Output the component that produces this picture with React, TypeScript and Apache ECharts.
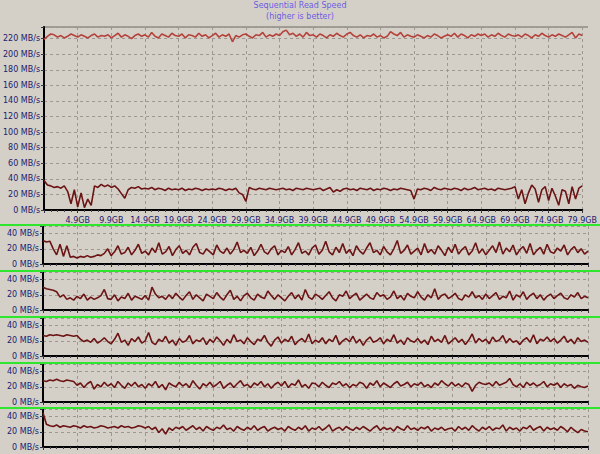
import React, { useEffect, useRef } from 'react';
import * as echarts from 'echarts';

const STEP_GB = 0.5;
const xTickLabels = ['', '4.9GB', '9.9GB', '14.9GB', '19.9GB', '24.9GB', '29.9GB', '34.9GB', '39.9GB', '44.9GB', '49.9GB', '54.9GB', '59.9GB', '64.9GB', '69.9GB', '74.9GB', '79.9GB'];

const mainTop = [
  219, 223, 226, 225, 222, 224, 221, 223, 226, 224,
  222, 225, 223, 221, 224, 226, 222, 224, 223, 225,
  221, 224, 227, 222, 225, 223, 220, 224, 226, 223,
  225, 222, 228, 223, 221, 226, 224, 222, 227, 224,
  223, 226, 221, 225, 224, 222, 227, 223, 225, 221,
  224, 227, 222, 225, 223, 226, 216, 224, 222, 225,
  226, 223, 221, 225, 224, 228, 222, 225, 223, 226,
  224, 229, 231, 225, 227, 223, 226, 222, 228, 224,
  225, 222, 226, 224, 221, 225, 223, 227, 224, 222,
  226, 228, 224, 222, 225, 221, 224, 223, 226, 222,
  224, 221, 223, 229, 226, 224, 228, 222, 225, 223,
  222, 225, 223, 221, 224, 222, 226, 224, 221, 223,
  225, 223, 227, 222, 226, 224, 221, 225, 223, 226,
  224, 226, 222, 225, 223, 227, 224, 222, 226, 224,
  223, 225, 222, 226, 224, 221, 225, 223, 227, 224,
  222, 225, 223, 226, 224, 222, 225, 228, 221, 226,
  224,
];

const mainLow = [
  38, 32, 31, 29, 30, 28, 31, 24, 8, 26,
  4, 22, 3, 14, 6, 31, 29, 33, 30, 32,
  29, 31, 27, 21, 15, 26, 29, 28, 30, 27,
  28, 27, 29, 26, 28, 27, 25, 28, 26, 27,
  26, 28, 25, 27, 26, 28, 27, 25, 27, 26,
  27, 26, 28, 27, 25, 27, 26, 28, 22, 20,
  11, 29, 27, 26, 28, 27, 26, 28, 27, 26,
  27, 28, 26, 27, 25, 28, 27, 26, 28, 27,
  26, 27, 28, 25, 27, 29, 23, 26, 24, 27,
  28, 26, 27, 25, 28, 27, 26, 28, 25, 27,
  26, 28, 27, 25, 27, 26, 28, 27, 26, 25,
  14, 27, 26, 28, 27, 25, 29, 27, 26, 28,
  27, 26, 28, 27, 25, 28, 26, 27, 29, 26,
  27, 28, 26, 27, 25, 28, 27, 26, 27, 28,
  30, 14, 26, 8, 22, 32, 27, 10, 26, 30,
  12, 28, 18, 6, 26, 24, 8, 30, 14, 28,
  31,
];

const panel1 = [
  31, 29, 30, 20, 12, 26, 10, 24, 9, 10,
  8, 10, 9, 11, 9, 10, 12, 11, 14, 20,
  11, 16, 24, 13, 15, 22, 12, 18, 26, 14,
  17, 12, 21, 15, 28, 13, 16, 23, 11, 19,
  24, 14, 18, 12, 22, 27, 15, 13, 20, 16,
  12, 25, 17, 14, 21, 13, 19, 29, 15, 18,
  14, 22, 11, 17, 26, 16, 13, 20, 24, 12,
  18, 15, 23, 12, 19, 28, 14, 17, 12, 21,
  25, 13, 18, 30, 16, 12, 22, 15, 27, 14,
  19, 11, 24, 17, 13, 21, 28, 15, 18, 12,
  23, 16, 12, 20, 31, 14, 18, 25, 13, 17,
  21, 12, 27, 15, 19, 13, 24, 18, 11, 22,
  15, 26, 13, 19, 23, 12, 17, 28, 14, 20,
  12, 18, 24, 15, 29, 13, 21, 16, 25, 12,
  19, 23, 14, 27, 12, 18, 22, 13, 26, 16,
  14, 21, 17, 25, 12, 19, 23, 15, 20, 13,
  17,
];

const panel2 = [
  30, 28, 27, 26, 24, 17, 20, 14, 16, 13,
  18, 15, 21, 13, 17, 14, 16, 19, 27, 15,
  14, 20, 12, 17, 15, 22, 13, 18, 16, 14,
  19, 13, 30, 21, 16, 18, 14, 20, 15, 22,
  17, 13, 19, 24, 14, 20, 16, 12, 21, 18,
  15, 23, 17, 13, 20, 26, 14, 18, 12, 19,
  22, 16, 13, 21, 17, 15, 25, 19, 14, 20,
  16, 12, 18, 23, 15, 20, 13, 27, 17, 14,
  21, 18, 14, 19, 24, 16, 12, 20, 18, 25,
  15, 19, 22, 13, 17, 21, 16, 14, 23, 18,
  20, 14, 17, 25, 15, 19, 13, 22, 18, 16,
  24, 17, 13, 20, 16, 28, 14, 19, 21, 15,
  18, 22, 15, 13, 20, 17, 24, 16, 19, 14,
  21, 15, 19, 23, 14, 18, 16, 25, 13, 20,
  17, 24, 14, 19, 22, 15, 20, 13, 18, 21,
  15, 19, 22, 16, 14, 20, 17, 23, 15, 18,
  16,
];

const panel3 = [
  27, 26, 28, 27, 28, 27, 26, 28, 27, 26,
  27, 22, 19, 21, 18, 23, 17, 20, 24, 19,
  16, 22, 30, 18, 21, 14, 23, 19, 25, 17,
  20, 31, 18, 15, 22, 19, 26, 17, 21, 14,
  23, 18, 20, 27, 16, 21, 19, 24, 15, 22,
  18, 25, 20, 14, 22, 17, 28, 19, 21, 16,
  24, 19, 15, 22, 20, 27, 18, 13, 21, 25,
  17, 22, 19, 26, 15, 20, 23, 18, 29, 16,
  21, 18, 24, 16, 22, 19, 27, 15, 20, 23,
  19, 26, 17, 22, 14, 21, 25, 18, 20, 24,
  16, 22, 19, 28, 17, 21, 15, 24, 20, 18,
  23, 17, 21, 15, 26, 19, 22, 18, 27, 16,
  20, 24, 18, 22, 15, 21, 29, 17, 23, 19,
  22, 16, 25, 19, 21, 27, 17, 23, 18, 20,
  15, 21, 24, 18, 28, 16, 22, 20, 25, 19,
  23, 17, 21, 26, 18, 22, 16, 24, 19, 21,
  18,
];

const panel4 = [
  28, 27, 29, 28, 30, 28, 27, 29, 28, 27,
  22, 25, 19, 24, 27, 17, 23, 20, 26, 21,
  24, 19, 27, 22, 18, 25, 21, 26, 20, 23,
  18, 24, 21, 27, 19, 23, 16, 25, 22, 20,
  26, 21, 24, 19, 28, 22, 17, 24, 21, 26,
  20, 23, 27, 18, 22, 25, 19, 24, 28, 21,
  23, 19, 25, 22, 27, 20, 24, 18, 23, 26,
  21, 27, 19, 24, 22, 29, 20, 23, 18, 25,
  24, 20, 26, 22, 19, 25, 23, 27, 21, 24,
  19, 23, 21, 26, 24, 18, 25, 22, 28, 20,
  25, 22, 19, 24, 27, 21, 23, 26, 20, 24,
  22, 26, 20, 23, 19, 25, 22, 28, 24, 21,
  26, 21, 24, 20, 25, 23, 14, 22, 26, 24,
  23, 25, 21, 27, 22, 24, 26, 31, 23, 20,
  24, 19, 26, 22, 25, 21, 23, 27, 20, 24,
  22, 25, 19, 24, 21, 23, 18, 22, 20, 19,
  21,
];

const panel5 = [
  45, 30, 28, 27, 29, 26, 28, 27, 26, 28,
  27, 25, 28, 26, 27, 25, 26, 28, 27, 25,
  26, 27, 25, 28, 26, 27, 25, 26, 28, 27,
  25, 27, 23, 26, 19, 24, 17, 25, 22, 26,
  24, 27, 22, 25, 28, 23, 26, 21, 27, 24,
  22, 26, 24, 29, 23, 25, 21, 27, 24, 22,
  26, 23, 28, 22, 25, 27, 21, 24, 26, 23,
  25, 21, 27, 24, 22, 26, 23, 28, 21, 25,
  23, 27, 22, 25, 29, 21, 24, 26, 22, 27,
  24, 22, 26, 23, 27, 24, 21, 25, 28, 22,
  26, 23, 25, 21, 27, 24, 22, 28, 23, 25,
  22, 26, 24, 27, 21, 25, 23, 26, 22, 24,
  25, 21, 27, 23, 26, 22, 28, 24, 21, 26,
  23, 27, 22, 25, 24, 29, 21, 26, 23, 25,
  21, 26, 24, 28, 22, 25, 27, 21, 26, 23,
  25, 22, 27, 24, 20, 26, 22, 19, 23, 21,
  20,
];

const panelSeries = [panel1, panel2, panel3, panel4, panel5];
const separatorsY = [225, 271, 317, 363, 408];

const LABEL_COLOR = '#20206e';
const FONT = 'DejaVu Sans';
const GRID_DASH = '#9e978f';

function toPoints(values: number[]) {
  return values.map((v, i) => [i * STEP_GB, v]);
}

export default function App() {
  const ref = useRef<HTMLDivElement>(null);
  useEffect(() => {
    if (!ref.current) return;
    const chart = echarts.init(ref.current, null, { renderer: 'svg' });

    const grids: any[] = [{ left: 43, right: 12, top: 27, height: 183 }];
    separatorsY.forEach((g) => grids.push({ left: 43, right: 12, top: g + 1, height: 38 }));

    const xAxes = grids.map((_, i) => ({
      type: 'value',
      gridIndex: i,
      min: 0,
      max: 80,
      interval: 5,
      axisLine: { show: true, onZero: false, lineStyle: { color: '#000', width: 2 } },
      axisTick: { show: true, length: 3, lineStyle: { color: '#334' } },
      minorTick: { show: true, splitNumber: 5, length: 2, lineStyle: { color: '#445' } },
      splitLine: { show: true, lineStyle: { color: GRID_DASH, type: [3, 3], width: 1 } },
      axisLabel: {
        show: i === 0,
        color: LABEL_COLOR,
        fontFamily: FONT,
        fontSize: 8,
        margin: 6,
        showMinLabel: false,
        formatter: (v: number) => xTickLabels[Math.round(v / 5)] || '',
      },
    }));

    const yAxes = grids.map((_, i) => ({
      type: 'value',
      gridIndex: i,
      min: 0,
      max: i === 0 ? 235 : 50,
      interval: 20,
      axisLine: { show: true, lineStyle: { color: '#000', width: 2 } },
      axisTick: { show: true, length: 3, lineStyle: { color: '#334' } },
      splitLine: { show: true, lineStyle: { color: GRID_DASH, type: [3, 3], width: 1 } },
      axisLabel: {
        color: LABEL_COLOR,
        fontFamily: FONT,
        fontSize: 8,
        margin: 4,
        formatter: (v: number) => (v % 20 === 0 ? `${v} MB/s` : ''),
      },
    }));

    const series: any[] = [
      {
        type: 'line', xAxisIndex: 0, yAxisIndex: 0, showSymbol: false,
        data: toPoints(mainTop), lineStyle: { color: '#b5423a', width: 1.6 },
      },
      {
        type: 'line', xAxisIndex: 0, yAxisIndex: 0, showSymbol: false,
        data: toPoints(mainLow), lineStyle: { color: '#6c1414', width: 1.6 },
      },
    ];
    panelSeries.forEach((vals, k) => {
      series.push({
        type: 'line', xAxisIndex: k + 1, yAxisIndex: k + 1, showSymbol: false,
        data: toPoints(vals), lineStyle: { color: '#6c1414', width: 1.6 },
      });
    });

    const graphics: any[] = separatorsY.map((y) => ({
      type: 'line',
      shape: { x1: 0, y1: y, x2: 600, y2: y },
      style: { stroke: '#2ee62e', lineWidth: 2 },
      z: 100,
    }));
    graphics.push({
      type: 'line',
      shape: { x1: 43, y1: 27, x2: 588, y2: 27 },
      style: { stroke: '#a09c96', lineWidth: 2 },
    });

    chart.setOption({
      animation: false,
      backgroundColor: '#d4d0c8',
      title: [
        { text: 'Sequential Read Speed', left: 'center', top: 1, padding: 0,
          textStyle: { color: '#6b5de0', fontSize: 8, fontWeight: 'normal', fontFamily: FONT } },
        { text: '(higher is better)', left: 'center', top: 12, padding: 0,
          textStyle: { color: '#6b5de0', fontSize: 8, fontWeight: 'normal', fontFamily: FONT } },
      ],
      grid: grids,
      xAxis: xAxes,
      yAxis: yAxes,
      series,
      graphic: graphics,
    });
    return () => chart.dispose();
  }, []);
  return (
    <div
      ref={ref}
      style={{ position: 'absolute', left: 0, top: 0, width: 600, height: 454, background: '#d4d0c8' }}
    />
  );
}
